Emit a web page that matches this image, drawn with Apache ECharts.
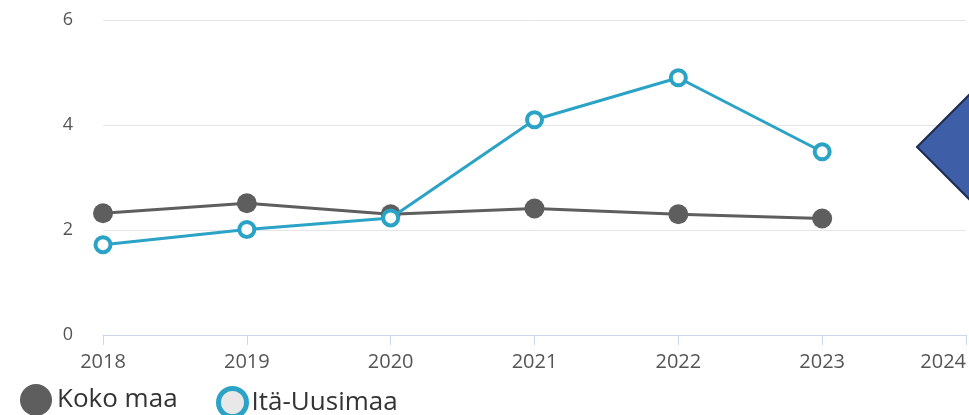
<!DOCTYPE html>
<html>
<head>
<meta charset="utf-8">
<script src="https://cdn.jsdelivr.net/npm/echarts@6/dist/echarts.min.js"></script>
<style>
  html, body { margin: 0; padding: 0; background: #fff; }
  #chart { width: 969px; height: 415px; }
</style>
</head>
<body>
<div id="chart"></div>
<script>
  var years = ['2018', '2019', '2020', '2021', '2022', '2023', '2024'];
  var kokoMaa = [2.32, 2.51, 2.3, 2.41, 2.3, 2.22];
  var itaUusimaa = [1.72, 2.01, 2.23, 4.1, 4.9, 3.49];
  var yTicks = [0, 2, 4, 6];

  var grey = '#5e5e5e';
  var blue = '#2ba3c6';
  var font = '"Open Sans", sans-serif';
  var legendText = { fontFamily: font, fontSize: 26, color: '#333' };

  var chart = echarts.init(document.getElementById('chart'));
  var option = {
    animation: false,
    grid: { left: 103, right: 3, top: 20, bottom: 80, containLabel: false, outerBoundsMode: 'none' },
    legend: [
      {
        left: 15,
        top: 379,
        itemWidth: 32,
        itemHeight: 32,
        icon: 'circle',
        textStyle: legendText,
        data: [{ name: 'Koko maa', itemStyle: { color: grey, borderWidth: 0 } }]
      },
      {
        left: 211,
        top: 381,
        itemWidth: 28,
        itemHeight: 28,
        icon: 'circle',
        textStyle: legendText,
        data: [{ name: 'Itä-Uusimaa', itemStyle: { color: '#e8e8e8', borderColor: blue, borderWidth: 5 } }]
      }
    ],
    xAxis: {
      type: 'category',
      boundaryGap: false,
      data: years,
      axisLine: { lineStyle: { color: '#ccd6eb', width: 1 } },
      axisTick: { length: 10, lineStyle: { color: '#ccd6eb' } },
      axisLabel: { color: '#555', fontFamily: font, fontSize: 20, margin: 17, alignMaxLabel: 'right' },
      splitLine: { show: false }
    },
    yAxis: {
      type: 'value',
      min: yTicks[0],
      max: yTicks[yTicks.length - 1],
      interval: 2,
      axisLine: { show: false },
      axisTick: { show: false },
      axisLabel: { color: '#555', fontFamily: font, fontSize: 18, margin: 30 },
      splitLine: { lineStyle: { color: '#e6e6e6', width: 1 } }
    },
    series: [
      {
        name: 'Koko maa',
        type: 'line',
        data: kokoMaa,
        symbol: 'circle',
        symbolSize: 20,
        lineStyle: { color: grey, width: 3 },
        itemStyle: { color: grey, borderWidth: 0 },
        z: 2
      },
      {
        name: 'Itä-Uusimaa',
        type: 'line',
        data: itaUusimaa,
        symbol: 'circle',
        symbolSize: 15,
        lineStyle: { color: blue, width: 3 },
        itemStyle: { color: '#fff', borderColor: blue, borderWidth: 4 },
        z: 3
      }
    ],
    graphic: [
      {
        type: 'polygon',
        shape: { points: [[917, 147], [969, 95], [1021, 147], [969, 199]] },
        style: { fill: '#3f5ea8', stroke: '#1c2b4e', lineWidth: 2 },
        z: 10
      }
    ]
  };
  chart.setOption(option);
</script>
</body>
</html>
